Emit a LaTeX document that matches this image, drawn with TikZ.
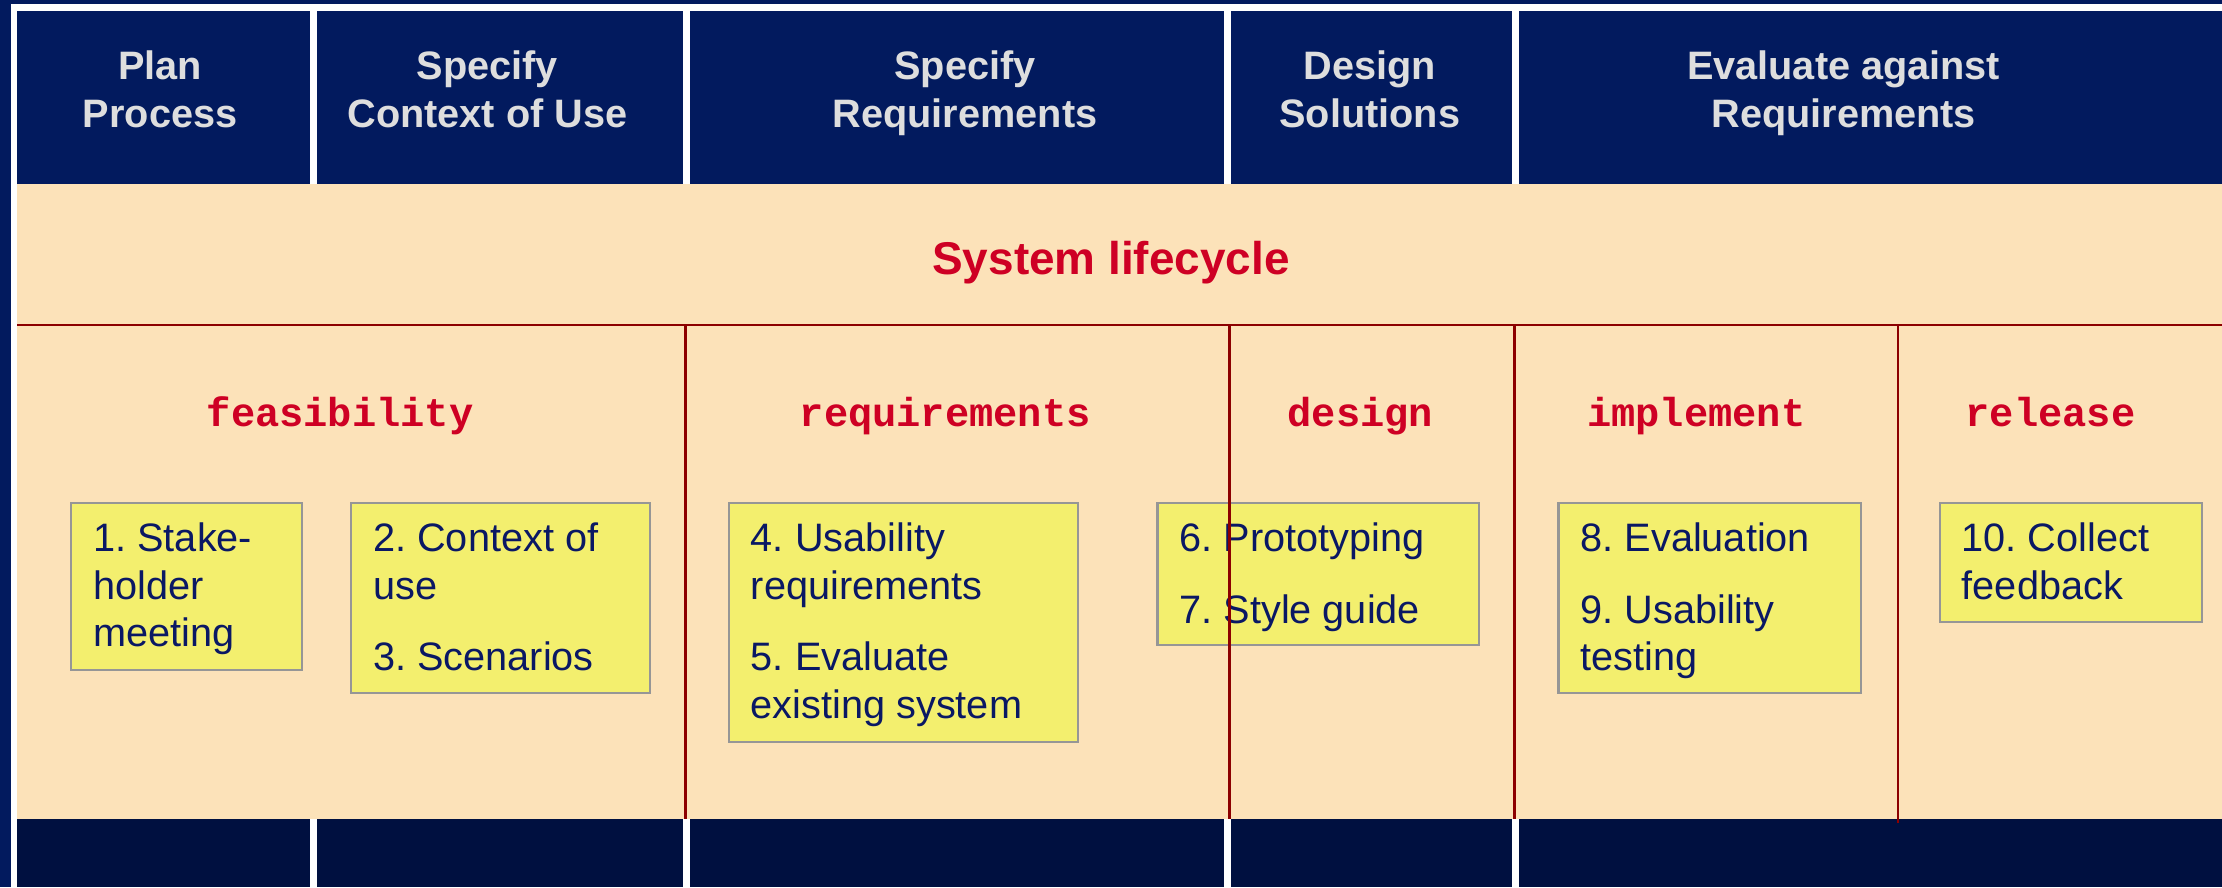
\documentclass[tikz,border=0pt]{standalone}
\usepackage{fontspec}
\setmainfont{Liberation Sans}
\setmonofont{Liberation Mono}
\frenchspacing
\definecolor{navy}{RGB}{2,26,94}
\definecolor{navydark}{RGB}{0,16,64}
\definecolor{beige}{RGB}{252,226,185}
\definecolor{redline}{RGB}{140,0,0}
\definecolor{redtext}{RGB}{206,0,36}
\definecolor{yel}{RGB}{243,239,110}
\definecolor{boxborder}{RGB}{150,150,150}
\definecolor{boxtext}{RGB}{10,24,100}
\definecolor{headtext}{RGB}{222,222,222}
\newcommand{\fl}{\rule{0pt}{10.5pt}}
\begin{document}
\begin{tikzpicture}[x=0.5pt,y=-0.5pt,
  headfill/.style={fill=navy},
  footfill/.style={fill=navydark},
  headtxt/.style={text=headtext, anchor=base, inner sep=0pt,
    font=\bfseries\fontsize{14pt}{16.5pt}\selectfont},
  titletxt/.style={text=redtext, anchor=base, inner sep=0pt,
    font=\bfseries\fontsize{16.2pt}{19pt}\selectfont},
  phasetxt/.style={text=redtext, anchor=base, inner sep=0pt,
    font=\ttfamily\bfseries\fontsize{14.25pt}{17pt}\selectfont},
  ybox/.style={draw=boxborder, line width=0.8pt, fill=yel,
    anchor=north west, inner sep=0pt},
  ytxt/.style={text=boxtext, anchor=north west, align=left, inner sep=0pt,
    font=\fontsize{14pt}{16.75pt}\selectfont},
  rline/.style={draw=redline, line width=1pt}
]
\useasboundingbox (0,0) rectangle (1568,626);
% frame
\fill[navy] (0,0) rectangle (1568,626);
\fill[white] (7.6,2.8) rectangle (1568,626);
% header cells
\fill[headfill] (12,8) rectangle (218.6,129.6);
\fill[headfill] (223.7,8) rectangle (482,129.6);
\fill[headfill] (487,8) rectangle (864,129.6);
\fill[headfill] (869,8) rectangle (1067,129.6);
\fill[headfill] (1072,8) rectangle (1568,129.6);
% beige body
\fill[beige] (12,129.6) rectangle (1568,578);
% footer cells
\fill[footfill] (12,578) rectangle (218.6,626);
\fill[footfill] (223.7,578) rectangle (482,626);
\fill[footfill] (487,578) rectangle (864,626);
\fill[footfill] (869,578) rectangle (1067,626);
\fill[footfill] (1072,578) rectangle (1568,626);
% header texts
\node[headtxt] (h1a) at (113,56) {Plan};
\node[headtxt] (h1b) at (113,89.9) {Process};
\node[headtxt] (h2a) at (344,56) {Specify};
\node[headtxt] (h2b) at (344,89.9) {Context of Use};
\node[headtxt] (h3a) at (681,56) {Specify};
\node[headtxt] (h3b) at (681,89.9) {Requirements};
\node[headtxt] (h4a) at (966.6,56) {Design};
\node[headtxt] (h4b) at (966.6,89.9) {Solutions};
\node[headtxt] (h5a) at (1301,56) {Evaluate against};
\node[headtxt] (h5b) at (1301,89.9) {Requirements};
% title
\node[titletxt] (title) at (784,193.4) {System lifecycle};
% phase labels
\node[phasetxt] (p1) at (240,301) {feasibility};
\node[phasetxt] (p2) at (667,301) {requirements};
\node[phasetxt] (p3) at (960,301) {design};
\node[phasetxt] (p4) at (1197,301) {implement};
\node[phasetxt] (p5) at (1447,301) {release};
% yellow boxes
\node[ybox, minimum width=81.5pt, minimum height=59pt] (b1) at (49.5,354) {};
\node[ybox, minimum width=105.4pt, minimum height=67.2pt] (b2) at (247,354) {};
\node[ybox, minimum width=123.2pt, minimum height=84.5pt] (b4) at (513.5,354) {};
\node[ybox, minimum width=113.4pt, minimum height=50.2pt] (b6) at (816,354) {};
\node[ybox, minimum width=106.8pt, minimum height=67.2pt] (b8) at (1099,354) {};
\node[ybox, minimum width=92.5pt, minimum height=42pt] (b10) at (1368,354) {};
% box texts
\node[ytxt] (t1) at ([xshift=8pt,yshift=-7pt]b1.north west)
  {\fl 1. Stake-\\holder\\meeting};
\node[ytxt] (t2) at ([xshift=8pt,yshift=-7pt]b2.north west)
  {\fl 2. Context of\\use\\[8.5pt]3. Scenarios};
\node[ytxt] (t4) at ([xshift=8pt,yshift=-7pt]b4.north west)
  {\fl 4. Usability\\requirements\\[8.5pt]5. Evaluate\\existing system};
\node[ytxt] (t6) at ([xshift=8pt,yshift=-7pt]b6.north west)
  {\fl 6. Prototyping\\[8.5pt]7. Style guide};
\node[ytxt] (t8) at ([xshift=8pt,yshift=-7pt]b8.north west)
  {\fl 8. Evaluation\\[8.5pt]9. Usability\\testing};
\node[ytxt] (t10) at ([xshift=8pt,yshift=-7pt]b10.north west)
  {\fl 10. Collect\\feedback};
% red lines
\coordinate (hl) at (12,229.4);
\coordinate (hr) at (1568,229.4);
\draw[rline] (hl) -- (hr);
\coordinate (v1t) at (484,229.4);   \coordinate (v1b) at (484,578);
\coordinate (v2t) at (867.8,229.4); \coordinate (v2b) at (867.8,578);
\coordinate (v3t) at (1069,229.4);  \coordinate (v3b) at (1069,578);
\coordinate (v4t) at (1339.4,229.4);\coordinate (v4b) at (1339.4,581);
\draw[rline] (v1t) -- (v1b);
\draw[rline] (v2t) -- (v2b);
\draw[rline] (v3t) -- (v3b);
\draw[rline] (v4t) -- (v4b);
\end{tikzpicture}
\end{document}
